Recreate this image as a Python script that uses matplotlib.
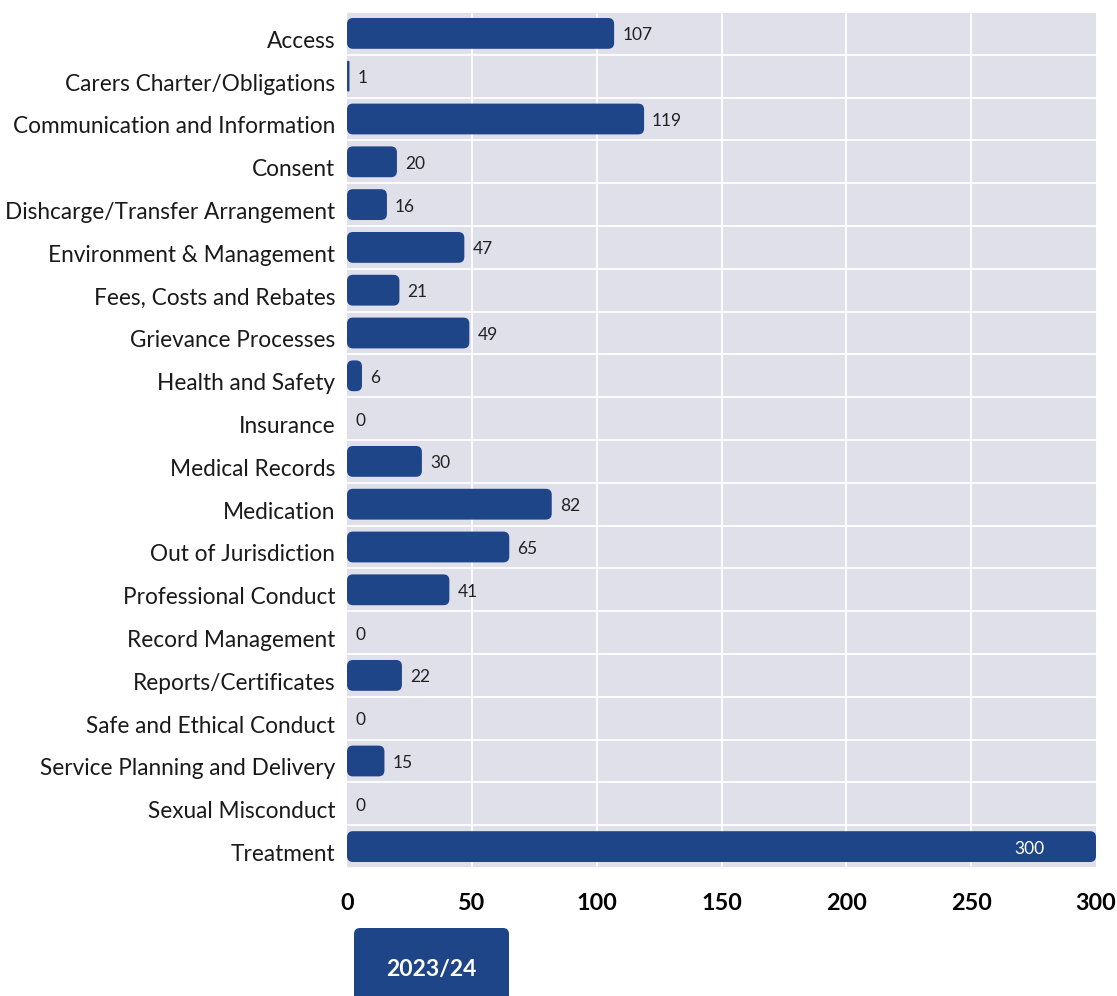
"""Complaint issues by category, 2023/24, as a rounded horizontal bar chart."""

import matplotlib.pyplot as plt
import matplotlib.transforms as mtransforms
from matplotlib.patches import FancyBboxPatch

plt.rcParams["font.family"] = ["Lato", "DejaVu Sans"]

categories = [
    "Access",
    "Carers Charter/Obligations",
    "Communication and Information",
    "Consent",
    "Dishcarge/Transfer Arrangement",
    "Environment & Management",
    "Fees, Costs and Rebates",
    "Grievance Processes",
    "Health and Safety",
    "Insurance",
    "Medical Records",
    "Medication",
    "Out of Jurisdiction",
    "Professional Conduct",
    "Record Management",
    "Reports/Certificates",
    "Safe and Ethical Conduct",
    "Service Planning and Delivery",
    "Sexual Misconduct",
    "Treatment",
]
counts = [107, 1, 119, 20, 16, 47, 21, 49, 6, 0, 30, 82, 65, 41, 0, 22, 0, 15, 0, 300]
x_ticks = [0, 50, 100, 150, 200, 250, 300]
series_label = "2023/24"

BAR_COLOR = "#1f4589"
BG_COLOR = "#e0e0eb"

W, H = 1117, 996
fig = plt.figure(figsize=(W / 100, H / 100), dpi=100)
ax = fig.add_axes([347 / W, 1 - 868 / H, (1096 - 347) / W, (868 - 12) / H])
ax.set_facecolor(BG_COLOR)

n = len(categories)
ax.set_xlim(0, 300)
ax.set_ylim(n - 0.5, -0.5)

# white grid: vertical at ticks, horizontal between rows
for x in x_ticks[1:-1]:
    ax.axvline(x, color="white", lw=1.3, zorder=1)
for k in range(n + 1):
    ax.axhline(k - 0.5, color="white", lw=1.3, zorder=1)

# rounded bars; corner radius given in pixels
px_x = 300 / (1096 - 347)        # data units per pixel along x
px_y = n / (868 - 12)            # data units per pixel along y
radius_px = 6
bar_h = 0.72
for i, v in enumerate(counts):
    if v <= 0:
        continue
    rx = min(radius_px * px_x, v / 2)
    aspect = (min(radius_px, v / px_x / 2) * px_y) / rx
    patch = FancyBboxPatch(
        (0, i - bar_h / 2), v, bar_h,
        boxstyle=f"round,pad=0,rounding_size={rx}",
        mutation_aspect=aspect,
        facecolor=BAR_COLOR, edgecolor="none", zorder=2,
    )
    ax.add_patch(patch)

# value labels: inside the bar for the long one, after the end otherwise
for i, v in enumerate(counts):
    if v >= 250:
        ax.annotate(str(v), (v, i), xytext=(-52, -2), textcoords="offset pixels",
                    ha="right", va="center", fontsize=12.5, color="white", zorder=3)
    else:
        ax.annotate(str(v), (v, i), xytext=(8, -2), textcoords="offset pixels",
                    ha="left", va="center", fontsize=12.5, color="#222222", zorder=3)

ax.set_yticks(range(n))
ax.set_yticklabels(categories, fontsize=16.3, color="#1a1a1a")
ax.set_xticks(x_ticks)
ax.set_xticklabels([str(t) for t in x_ticks], fontsize=16.8, fontweight="bold")
ax.tick_params(axis="both", length=0)
ax.tick_params(axis="y", pad=8.5)
ax.tick_params(axis="x", pad=18)
for s in ax.spines.values():
    s.set_visible(False)

# category names sit a little below the bar centre line
shift = mtransforms.ScaledTranslation(0, -6 / 100, fig.dpi_scale_trans)
for lbl in ax.get_yticklabels():
    lbl.set_transform(lbl.get_transform() + shift)

# series tab below the axis
tab = FancyBboxPatch(
    (354 / W, 1 - 1010 / H), (509 - 354) / W, (1010 - 928) / H,
    boxstyle=f"round,pad=0,rounding_size={6 / W}",
    mutation_aspect=W / H,
    transform=fig.transFigure, facecolor=BAR_COLOR, edgecolor="none",
)
fig.patches.append(tab)
fig.text((354 + 509) / 2 / W, 1 - 969 / H, series_label, ha="center", va="center",
         fontsize=16.5, fontweight="bold", color="white")

fig.savefig("out.png", dpi=100)
